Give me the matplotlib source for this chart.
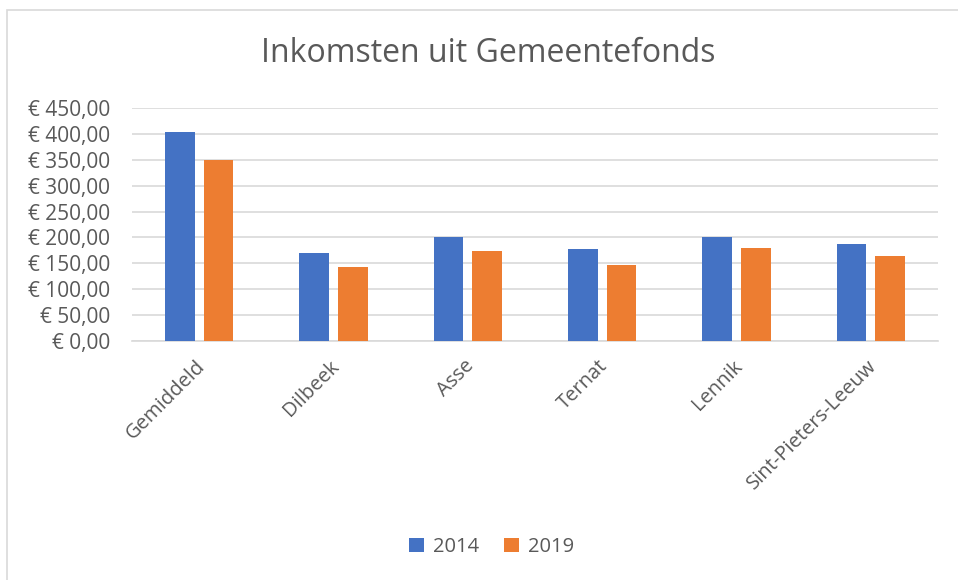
import matplotlib.pyplot as plt
import matplotlib.ticker as mticker
import matplotlib.transforms as mtransforms
from matplotlib.patches import Rectangle
import numpy as np

# data
gemeenten = ['Gemiddeld', 'Dilbeek', 'Asse', 'Ternat', 'Lennik', 'Sint-Pieters-Leeuw']
jaren = ['2014', '2019']
waarden_2014 = [404, 169, 201, 177, 201, 187]
waarden_2019 = [350, 143.5, 173, 147.5, 180, 164]
y_ticks = np.arange(0, 451, 50)

blauw = '#4472C4'
oranje = '#ED7D31'
grijs = '#595959'

plt.rcParams['font.family'] = ['Open Sans', 'DejaVu Sans']

fig = plt.figure(figsize=(9.58, 5.8), dpi=100)
W, H = 958, 580
# plot area in pixels: left 132, right 938, top 108, bottom 341
ax = fig.add_axes([132 / W, 1 - 341 / H, (938 - 132) / W, (341 - 108) / H])

x = np.arange(len(gemeenten))
bw = 0.223
off = 0.144
ax.bar(x - off, waarden_2014, bw, color=blauw, label=jaren[0], zorder=3)
ax.bar(x + off, waarden_2019, bw, color=oranje, label=jaren[1], zorder=3)

ax.set_xlim(-0.5, len(gemeenten) - 0.5)
ax.set_ylim(0, 450)
ax.set_yticks(y_ticks)
ax.yaxis.set_major_formatter(mticker.FuncFormatter(lambda v, p: '€ {:.2f}'.format(v).replace('.', ',')))
ax.yaxis.grid(True, color='#D9D9D9', linewidth=1.2, zorder=0)
ax.set_axisbelow(True)
for s in ['top', 'right', 'left']:
    ax.spines[s].set_visible(False)
ax.spines['bottom'].set_color('#D9D9D9')
ax.spines['bottom'].set_linewidth(1.2)
ax.tick_params(axis='both', length=0, colors=grijs)
ax.tick_params(axis='y', pad=16, labelsize=15)

ax.set_xticks(x)
ax.set_xticklabels(gemeenten, rotation=45, ha='right', rotation_mode='anchor', fontsize=14.5)
ax.tick_params(axis='x', pad=11)
shift = mtransforms.ScaledTranslation(-4 / 100, 0, fig.dpi_scale_trans)
for lbl in ax.get_xticklabels():
    lbl.set_transform(lbl.get_transform() + shift)

fig.text(0.51, 1 - 53 / H, 'Inkomsten uit Gemeentefonds', ha='center', va='center',
         fontsize=23, color=grijs)

fig.legend(loc='center', bbox_to_anchor=(0.513, 1 - 547 / H), ncol=2, frameon=False,
           fontsize=14.5, labelcolor=grijs, handlelength=0.75, handleheight=0.75,
           handletextpad=0.45, columnspacing=1.2)

# chart border (right and bottom edges fall outside the image)
fig.patches.append(Rectangle((7 / W, 1 - 600 / H), 980 / W, 590 / H, transform=fig.transFigure,
                             fill=False, edgecolor='#D9D9D9', linewidth=1.2))

plt.savefig('out.png', dpi=100)
